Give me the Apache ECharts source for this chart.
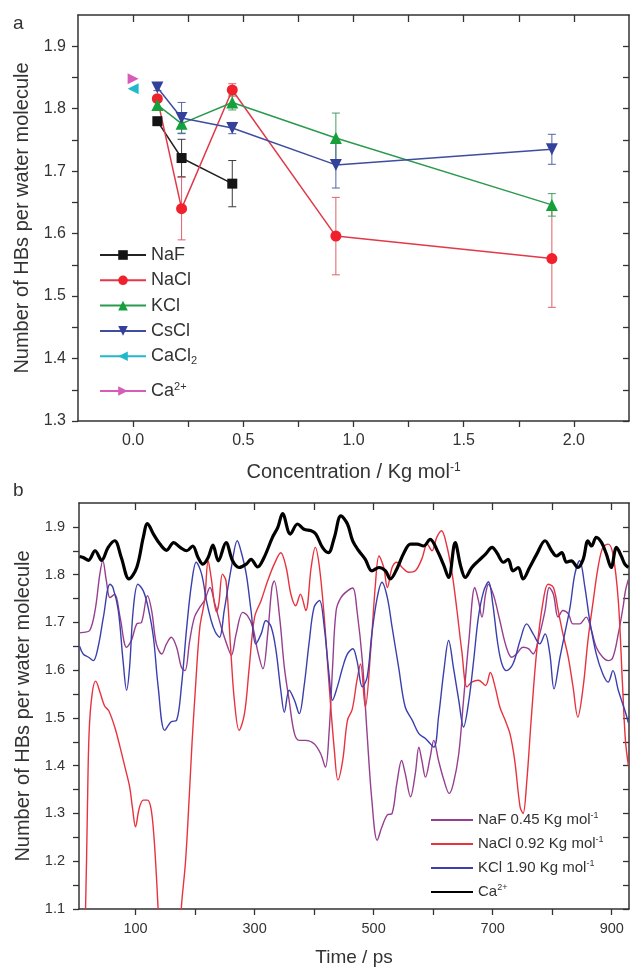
<!DOCTYPE html>
<html>
<head>
<meta charset="utf-8">
<script src="https://cdn.jsdelivr.net/npm/echarts@6/dist/echarts.min.js"></script>
<style>
  html, body { margin: 0; padding: 0; background: #ffffff; }
  #chart { width: 631px; height: 970px; }
</style>
</head>
<body>
<div id="chart"></div>
<script>
// ---------- Panel a: HBs per water molecule vs. salt concentration ----------
const concentration = [0.11, 0.22, 0.45, 0.92, 1.90];

const nafHB    = [1.780, 1.721, 1.680];
const nafErr   = [0.005, 0.030, 0.037];
const naclHB   = [1.816, 1.640, 1.830, 1.596, 1.560];
const naclErr  = [0.005, 0.050, 0.010, 0.062, 0.078];
const kclHB    = [1.806, 1.776, 1.810, 1.753, 1.646];
const kclErr   = [0.008, 0.015, 0.012, 0.040, 0.018];
const csclHB   = [1.834, 1.785, 1.769, 1.710, 1.735];
const csclErr  = [0.005, 0.025, 0.009, 0.037, 0.024];
const cacl2Point = [0.0, 1.832];
const caPoint    = [0.0, 1.848];

const concTicks  = [0, 0.25, 0.5, 0.75, 1.0, 1.25, 1.5, 1.75, 2.0];
const concLabels = [0, 0.5, 1.0, 1.5, 2.0];
const hbTicksA   = [1.3, 1.35, 1.4, 1.45, 1.5, 1.55, 1.6, 1.65, 1.7, 1.75, 1.8, 1.85, 1.9];
const hbLabelsA  = [1.3, 1.4, 1.5, 1.6, 1.7, 1.8, 1.9];

// ---------- Panel b: HBs per water molecule vs. simulation time ----------
const nafTrace = [
  [6,1.678],[12,1.679],[23,1.683],[32,1.725],[40,1.801],[45,1.829],[51,1.787],[57,1.752],[65,1.759],[74,1.711],
  [85,1.648],[93,1.662],[102,1.697],[110,1.700],[120,1.756],[127,1.725],[135,1.655],[144,1.634],[152,1.655],[160,1.669],
  [169,1.648],[177,1.606],[183,1.599],[191,1.662],[199,1.711],[208,1.732],[216,1.746],[225,1.773],[233,1.740],[244,1.690],
  [255,1.648],[261,1.631],[269,1.676],[280,1.721],[288,1.714],[297,1.690],[305,1.641],[314,1.603],[322,1.676],[329,1.773],
  [333,1.787],[342,1.711],[350,1.606],[358,1.537],[367,1.467],[375,1.453],[386,1.453],[400,1.446],[411,1.425],[419,1.397],
  [425,1.467],[431,1.606],[437,1.725],[445,1.752],[456,1.766],[465,1.772],[472,1.725],[481,1.620],[489,1.467],[497,1.328],
  [506,1.244],[514,1.272],[523,1.297],[531,1.300],[539,1.363],[547,1.411],[553,1.384],[562,1.335],[570,1.384],[576,1.439],
  [581,1.411],[587,1.376],[595,1.418],[601,1.453],[609,1.411],[618,1.370],[627,1.342],[634,1.363],[643,1.425],[651,1.537],
  [660,1.662],[670,1.773],[676,1.746],[682,1.711],[688,1.759],[693,1.780],[700,1.762],[704,1.746],[712,1.704],[723,1.648],
  [732,1.627],[740,1.634],[751,1.648],[760,1.645],[768,1.634],[779,1.676],[788,1.725],[795,1.773],[802,1.759],[810,1.711],
  [818,1.725],[827,1.718],[835,1.697],[846,1.697],[857,1.711],[866,1.683],[874,1.648],[885,1.627],[894,1.620],[902,1.627],
  [911,1.676],[919,1.732],[923,1.766],[928,1.790]
];

const naclTrace = [
  [6,0.900],[13,1.020],[16,1.100],[19,1.300],[22,1.470],[27,1.550],[33,1.577],[40,1.555],[48,1.525],[55,1.515],
  [65,1.481],[74,1.439],[82,1.398],[90,1.356],[95,1.310],[100,1.272],[106,1.310],[113,1.328],[120,1.328],[126,1.310],
  [131,1.250],[135,1.170],[139,1.080],[145,1.000],[165,1.000],[174,1.060],[178,1.120],[184,1.200],[190,1.330],[195,1.450],
  [200,1.550],[208,1.690],[216,1.746],[222,1.829],[227,1.794],[236,1.722],[240,1.740],[246,1.801],[252,1.787],[260,1.641],
  [266,1.537],[274,1.474],[283,1.509],[291,1.606],[300,1.711],[311,1.746],[322,1.787],[333,1.822],[344,1.846],[353,1.815],
  [361,1.759],[369,1.735],[377,1.759],[386,1.725],[395,1.815],[402,1.857],[409,1.815],[417,1.711],[425,1.572],[434,1.432],
  [440,1.370],[448,1.411],[456,1.495],[464,1.518],[472,1.579],[478,1.613],[486,1.523],[495,1.641],[503,1.780],[509,1.839],
  [517,1.815],[523,1.773],[531,1.815],[539,1.826],[548,1.815],[559,1.805],[570,1.808],[581,1.833],[590,1.864],[598,1.850],
  [606,1.878],[614,1.892],[623,1.860],[632,1.801],[640,1.725],[648,1.641],[657,1.565],[665,1.575],[676,1.579],[688,1.568],
  [696,1.595],[704,1.565],[712,1.523],[721,1.495],[729,1.467],[737,1.411],[746,1.314],[751,1.300],[757,1.363],[765,1.502],
  [774,1.641],[785,1.746],[793,1.780],[802,1.773],[810,1.725],[818,1.676],[827,1.627],[835,1.565],[843,1.502],[852,1.565],
  [860,1.662],[869,1.746],[877,1.815],[885,1.857],[894,1.864],[902,1.843],[911,1.746],[918,1.572],[923,1.453],[928,1.400]
];

const kclTrace = [
  [6,1.650],[12,1.634],[21,1.627],[29,1.620],[37,1.648],[46,1.711],[57,1.780],[62,1.773],[71,1.725],[79,1.620],
  [85,1.558],[90,1.606],[96,1.725],[104,1.780],[113,1.766],[121,1.732],[130,1.669],[138,1.565],[149,1.474],[160,1.492],
  [169,1.495],[177,1.565],[186,1.690],[194,1.780],[202,1.826],[211,1.801],[219,1.746],[227,1.704],[234,1.680],[241,1.669],
  [249,1.725],[261,1.815],[271,1.871],[277,1.850],[286,1.801],[294,1.725],[302,1.655],[311,1.676],[319,1.704],[328,1.690],
  [336,1.641],[344,1.558],[350,1.512],[358,1.558],[367,1.537],[375,1.509],[383,1.565],[392,1.662],[400,1.732],[409,1.746],
  [417,1.690],[425,1.592],[431,1.537],[439,1.565],[448,1.606],[456,1.634],[465,1.645],[472,1.620],[481,1.565],[489,1.585],
  [497,1.676],[506,1.752],[514,1.784],[523,1.752],[531,1.690],[542,1.606],[553,1.523],[565,1.495],[576,1.467],[587,1.457],
  [601,1.439],[609,1.502],[618,1.599],[626,1.662],[634,1.606],[643,1.537],[651,1.481],[660,1.537],[668,1.620],[676,1.711],
  [685,1.766],[693,1.785],[700,1.740],[708,1.660],[715,1.615],[723,1.599],[734,1.613],[746,1.662],[757,1.697],[768,1.676],
  [779,1.655],[788,1.676],[796,1.634],[803,1.561],[813,1.627],[821,1.676],[830,1.732],[838,1.801],[846,1.829],[855,1.773],
  [863,1.704],[874,1.634],[885,1.592],[894,1.575],[902,1.599],[911,1.558],[922,1.516],[928,1.490]
];

const caTrace = [
  [6,1.838],[12,1.836],[21,1.830],[32,1.850],[43,1.830],[54,1.857],[65,1.871],[76,1.836],[89,1.791],[102,1.815],
  [113,1.878],[120,1.907],[130,1.885],[141,1.864],[152,1.851],[164,1.867],[175,1.857],[186,1.850],[196,1.860],[205,1.836],
  [213,1.822],[222,1.836],[230,1.862],[239,1.829],[252,1.867],[263,1.829],[274,1.815],[286,1.822],[294,1.832],[305,1.816],
  [316,1.836],[330,1.878],[339,1.899],[347,1.928],[360,1.885],[372,1.906],[383,1.895],[395,1.892],[403,1.885],[414,1.857],
  [424,1.846],[434,1.878],[445,1.923],[456,1.906],[465,1.870],[475,1.850],[486,1.832],[497,1.808],[509,1.815],[520,1.808],
  [528,1.791],[539,1.812],[551,1.846],[562,1.864],[573,1.864],[584,1.860],[595,1.874],[607,1.850],[618,1.819],[626,1.794],
  [637,1.867],[646,1.819],[654,1.794],[665,1.815],[676,1.829],[688,1.843],[699,1.857],[707,1.846],[718,1.826],[726,1.832],
  [734,1.808],[743,1.815],[751,1.791],[762,1.815],[774,1.843],[788,1.871],[799,1.850],[807,1.839],[816,1.846],[824,1.826],
  [832,1.829],[843,1.815],[852,1.832],[860,1.871],[866,1.860],[874,1.878],[883,1.867],[891,1.843],[899,1.815],[908,1.857],
  [916,1.839],[922,1.822],[928,1.815]
];

const timeTicks  = [100, 200, 300, 400, 500, 600, 700, 800, 900];
const timeLabels = [100, 300, 500, 700, 900];
const hbTicksB   = [1.1, 1.15, 1.2, 1.25, 1.3, 1.35, 1.4, 1.45, 1.5, 1.55, 1.6, 1.65, 1.7, 1.75, 1.8, 1.85, 1.9];
const hbLabelsB  = [1.1, 1.2, 1.3, 1.4, 1.5, 1.6, 1.7, 1.8, 1.9];

// ---------- styling helpers ----------
const FONT = '"Liberation Sans", Arial, Helvetica, sans-serif';
const AXIS_COLOR = '#333333';
const TEXT_COLOR = '#333333';
const axisLine = { show: true, onZero: false, lineStyle: { color: AXIS_COLOR, width: 1.5 } };

function frameAxis(extra) {
  return Object.assign({
    type: 'value',
    axisLine: axisLine,
    splitLine: { show: false },
    axisLabel: { show: false },
    axisPointer: { show: false }
  }, extra);
}

function pairs(xs, ys) { return xs.map((x, i) => [x, ys[i]]); }

function errorBars(xs, ys, errs, color) {
  return {
    type: 'custom',
    xAxisIndex: 0, yAxisIndex: 0,
    silent: true,
    z: 1,
    encode: { x: 0, y: [1, 2] },
    data: xs.map((x, i) => [x, ys[i] - errs[i], ys[i] + errs[i]]),
    renderItem: function (params, api) {
      const lo = api.coord([api.value(0), api.value(1)]);
      const hi = api.coord([api.value(0), api.value(2)]);
      const w = 4;
      const st = { stroke: color, lineWidth: 1 };
      return {
        type: 'group',
        children: [
          { type: 'line', shape: { x1: lo[0], y1: lo[1], x2: hi[0], y2: hi[1] }, style: st },
          { type: 'line', shape: { x1: lo[0] - w, y1: lo[1], x2: lo[0] + w, y2: lo[1] }, style: st },
          { type: 'line', shape: { x1: hi[0] - w, y1: hi[1], x2: hi[0] + w, y2: hi[1] }, style: st }
        ]
      };
    }
  };
}

function markerLine(name, data, lineColor, markColor, symbol, size, rotate) {
  return {
    name: name,
    type: 'line',
    xAxisIndex: 0, yAxisIndex: 0,
    data: data,
    symbol: symbol,
    symbolSize: size,
    symbolRotate: rotate || 0,
    showAllSymbol: true,
    z: 3,
    lineStyle: { color: lineColor, width: 1.5 },
    itemStyle: { color: markColor },
    emphasis: { disabled: true }
  };
}

function trace(name, data, color, width) {
  return {
    name: name,
    type: 'line',
    xAxisIndex: 2, yAxisIndex: 2,
    data: data,
    symbol: 'none',
    smooth: 0.35,
    clip: true,
    lineStyle: { color: color, width: width },
    itemStyle: { color: color },
    emphasis: { disabled: true }
  };
}

const chart = echarts.init(document.getElementById('chart'), null, { renderer: 'canvas' });

const option = {
  animation: false,
  backgroundColor: '#ffffff',
  textStyle: { fontFamily: FONT, color: TEXT_COLOR },
  title: [
    { text: 'a', left: 13, top: 14, padding: 0, textStyle: { fontFamily: FONT, fontSize: 19, fontWeight: 'normal', color: TEXT_COLOR } },
    { text: 'b', left: 13, top: 481, padding: 0, textStyle: { fontFamily: FONT, fontSize: 19, fontWeight: 'normal', color: TEXT_COLOR } }
  ],
  grid: [
    { left: 78, top: 15, width: 551, height: 406 },
    { left: 79, top: 503, width: 550, height: 406 }
  ],
  xAxis: [
    frameAxis({
      gridIndex: 0, position: 'bottom', min: -0.25, max: 2.25,
      axisTick: { show: true, inside: false, length: 6, customValues: concTicks, lineStyle: { color: AXIS_COLOR, width: 1.3 } },
      axisLabel: { show: true, customValues: concLabels, margin: 12, fontSize: 16, fontFamily: FONT, color: TEXT_COLOR,
                   formatter: v => v.toFixed(1) },
      name: 'Concentration / Kg mol{sup|-1}',
      nameLocation: 'middle', nameGap: 41,
      nameTextStyle: { fontFamily: FONT, fontSize: 20, color: TEXT_COLOR,
                       rich: { sup: { fontFamily: FONT, fontSize: 12, color: TEXT_COLOR, verticalAlign: 'top', lineHeight: 12 } } }
    }),
    frameAxis({
      gridIndex: 0, position: 'top', min: -0.25, max: 2.25,
      axisTick: { show: true, inside: true, length: 7, customValues: concTicks, lineStyle: { color: AXIS_COLOR, width: 1.3 } }
    }),
    frameAxis({
      gridIndex: 1, position: 'bottom', min: 5, max: 929,
      axisTick: { show: true, inside: false, length: 6, customValues: timeTicks, lineStyle: { color: AXIS_COLOR, width: 1.3 } },
      axisLabel: { show: true, customValues: timeLabels, margin: 12, fontSize: 14.5, fontFamily: FONT, color: TEXT_COLOR },
      name: 'Time / ps',
      nameLocation: 'middle', nameGap: 39,
      nameTextStyle: { fontFamily: FONT, fontSize: 19, color: TEXT_COLOR }
    }),
    frameAxis({
      gridIndex: 1, position: 'top', min: 5, max: 929,
      axisTick: { show: true, inside: true, length: 7, customValues: timeTicks, lineStyle: { color: AXIS_COLOR, width: 1.3 } }
    })
  ],
  yAxis: [
    frameAxis({
      gridIndex: 0, position: 'left', min: 1.3, max: 1.95,
      axisTick: { show: true, inside: false, length: 6, customValues: hbTicksA, lineStyle: { color: AXIS_COLOR, width: 1.3 } },
      axisLabel: { show: true, customValues: hbLabelsA, margin: 12, fontSize: 16, fontFamily: FONT, color: TEXT_COLOR,
                   formatter: v => v.toFixed(1) },
      name: 'Number of HBs per water molecule',
      nameLocation: 'middle', nameRotate: 90, nameGap: 46,
      nameTextStyle: { fontFamily: FONT, fontSize: 20, color: TEXT_COLOR }
    }),
    frameAxis({
      gridIndex: 0, position: 'right', min: 1.3, max: 1.95,
      axisTick: { show: true, inside: true, length: 6, customValues: hbTicksA, lineStyle: { color: AXIS_COLOR, width: 1.3 } }
    }),
    frameAxis({
      gridIndex: 1, position: 'left', min: 1.1, max: 1.95,
      axisTick: { show: true, inside: false, length: 6, customValues: hbTicksB, lineStyle: { color: AXIS_COLOR, width: 1.3 } },
      axisLabel: { show: true, customValues: hbLabelsB, margin: 14, fontSize: 14.5, fontFamily: FONT, color: TEXT_COLOR,
                   formatter: v => v.toFixed(1) },
      name: 'Number of HBs per water molecule',
      nameLocation: 'middle', nameRotate: 90, nameGap: 46,
      nameTextStyle: { fontFamily: FONT, fontSize: 20, color: TEXT_COLOR }
    }),
    frameAxis({
      gridIndex: 1, position: 'right', min: 1.1, max: 1.95,
      axisTick: { show: true, inside: true, length: 6, customValues: hbTicksB, lineStyle: { color: AXIS_COLOR, width: 1.3 } }
    })
  ],
  legend: [
    {
      orient: 'vertical', left: 99, top: 245, padding: 0,
      itemWidth: 46, itemHeight: 12, itemGap: 5.3, selectedMode: false,
      data: ['NaF', 'NaCl', 'KCl', 'CsCl', 'CaCl2'],
      formatter: n => n === 'CaCl2' ? 'CaCl{sub|2}' : n,
      textStyle: { fontFamily: FONT, fontSize: 18, lineHeight: 20, color: TEXT_COLOR,
                   rich: { sub: { fontFamily: FONT, fontSize: 11, lineHeight: 11, verticalAlign: 'bottom', color: TEXT_COLOR } } }
    },
    {
      orient: 'vertical', left: 99, top: 381, padding: 0,
      itemWidth: 46, itemHeight: 12, selectedMode: false,
      data: ['Ca2+'],
      formatter: () => 'Ca{sup|2+}',
      textStyle: { fontFamily: FONT, fontSize: 18, lineHeight: 20, color: TEXT_COLOR,
                   rich: { sup: { fontFamily: FONT, fontSize: 11, lineHeight: 11, verticalAlign: 'top', color: TEXT_COLOR } } }
    },
    {
      orient: 'vertical', left: 430, top: 811, padding: 0,
      itemWidth: 42, itemHeight: 12, itemGap: 6, selectedMode: false,
      itemStyle: { opacity: 0 },
      data: ['NaF 0.45', 'NaCl 0.92', 'KCl 1.90', 'Ca2+ (t)'],
      formatter: n => n === 'Ca2+ (t)' ? 'Ca{sup|2+}' : n + ' Kg mol{sup|-1}',
      textStyle: { fontFamily: FONT, fontSize: 15, lineHeight: 18, color: TEXT_COLOR,
                   rich: { sup: { fontFamily: FONT, fontSize: 9, lineHeight: 9, verticalAlign: 'top', color: TEXT_COLOR } } }
    }
  ],
  series: [
    errorBars(concentration.slice(0, 3), nafHB, nafErr, '#3a3a3a'),
    errorBars(concentration, naclHB, naclErr, '#e0606c'),
    errorBars(concentration, kclHB, kclErr, '#40a060'),
    errorBars(concentration, csclHB, csclErr, '#5563a8'),
    markerLine('NaF', pairs(concentration.slice(0, 3), nafHB), '#222222', '#141414', 'rect', 10),
    markerLine('NaCl', pairs(concentration, naclHB), '#e2394a', '#f0212c', 'circle', 11),
    markerLine('KCl', pairs(concentration, kclHB), '#2a9a4c', '#16a03c', 'triangle', 12),
    markerLine('CsCl', pairs(concentration, csclHB), '#3e4d9e', '#33409c', 'triangle', 12, 180),
    markerLine('CaCl2', [cacl2Point], '#22b8cc', '#22b8cc', 'triangle', 11, 90),
    markerLine('Ca2+', [caPoint], '#d65cb8', '#d65cb8', 'triangle', 11, -90),
    trace('NaF 0.45', nafTrace, '#953f8f', 1.4),
    trace('NaCl 0.92', naclTrace, '#e8333f', 1.4),
    trace('KCl 1.90', kclTrace, '#3b3fae', 1.4),
    trace('Ca2+ (t)', caTrace, '#000000', 3.2)
  ]
};

chart.setOption(option);
</script>
</body>
</html>
